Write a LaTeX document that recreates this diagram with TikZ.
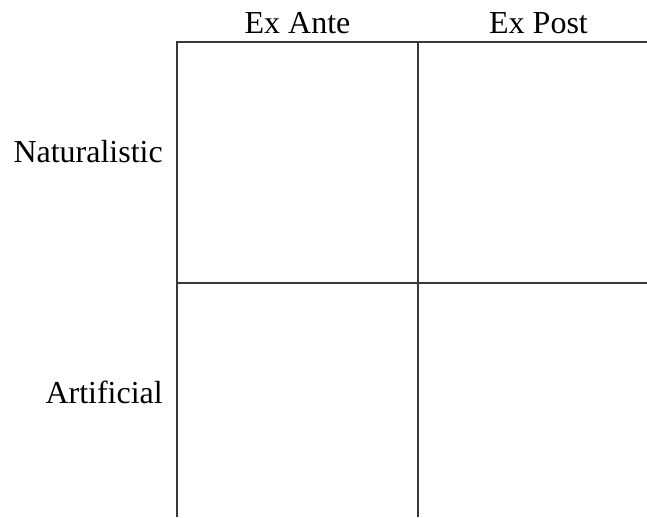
\documentclass[tikz,border=0pt]{standalone}
\usepackage{fontspec}
\setmainfont{Liberation Serif}
\begin{document}
\begin{tikzpicture}[x=1pt,y=-1pt,
  gridline/.style={draw=black!78,line width=1.3pt},
  head/.style={font=\fontsize{32}{32}\selectfont,inner sep=0pt,anchor=base},
  rowlabel/.style={font=\fontsize{32}{32}\selectfont,inner sep=0pt,anchor=base east}]
  \useasboundingbox (0,0) rectangle (647,517);
  % grid: outer top/left edges plus the inner cross, open to the right and bottom
  \draw[gridline] (647,42) -- (177,42) -- (177,517);
  \draw[gridline] (418,42) -- (418,517);
  \draw[gridline] (177,283) -- (647,283);
  % column headings
  \node[head] (exante) at (297.5,33) {Ex Ante};
  \node[head] (expost) at (538.5,33) {Ex Post};
  % row labels
  \node[rowlabel] (nat) at (163,162) {Naturalistic};
  \node[rowlabel] (art) at (163,403) {Artificial};
\end{tikzpicture}
\end{document}
